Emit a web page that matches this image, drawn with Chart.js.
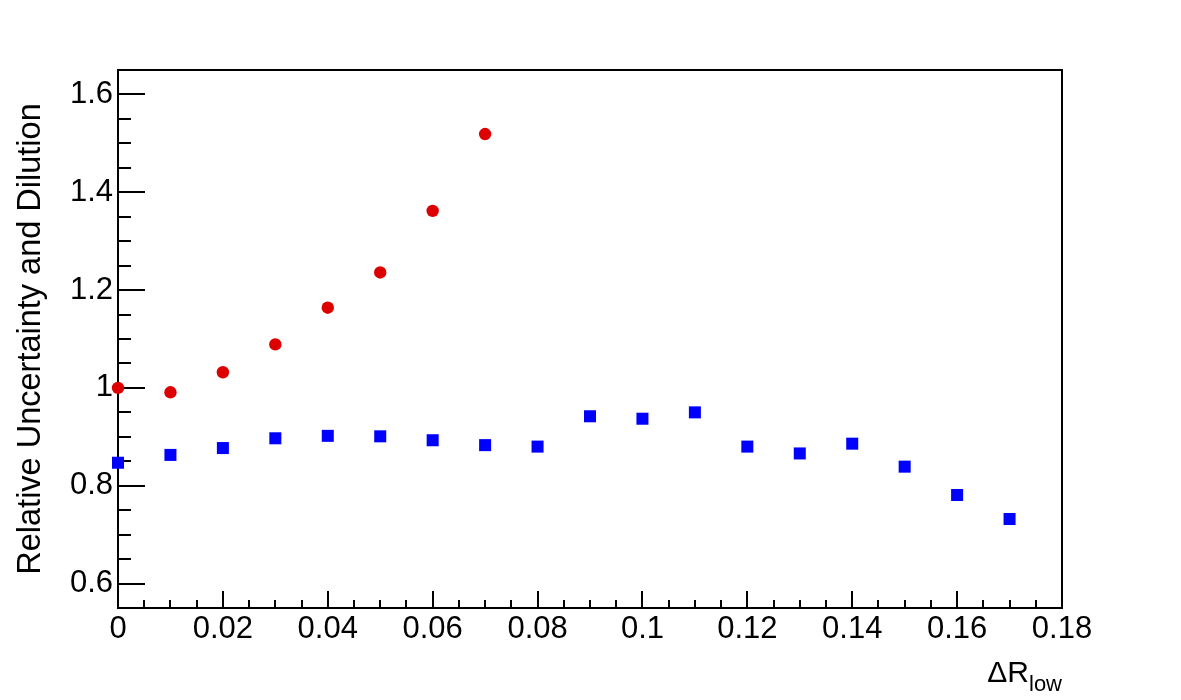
<!DOCTYPE html>
<html>
<head>
<meta charset="utf-8">
<title>Relative Uncertainty and Dilution</title>
<script src="https://cdn.jsdelivr.net/npm/chart.js@4/dist/chart.umd.min.js"></script>
<style>
    body { margin: 0; background: #ffffff; }
    #wrap { width: 1181px; height: 700px; position: relative; }
</style>
</head>
<body>
<div id="wrap"><canvas id="plot"></canvas></div>
<script>
// x positions (ΔR_low)
const dRlow = [0, 0.01, 0.02, 0.03, 0.04, 0.05, 0.06, 0.07, 0.08, 0.09,
               0.10, 0.11, 0.12, 0.13, 0.14, 0.15, 0.16, 0.17];

// red circles: relative uncertainty
const uncertainty = [1.000, 0.991, 1.032, 1.089, 1.164, 1.236, 1.362, 1.519];

// blue squares: dilution
const dilution = [0.847, 0.863, 0.877, 0.897, 0.902, 0.901, 0.893, 0.883, 0.880,
                  0.942, 0.937, 0.950, 0.880, 0.866, 0.886, 0.839, 0.781, 0.732];

// tick labels
const xTicks = [0, 0.02, 0.04, 0.06, 0.08, 0.1, 0.12, 0.14, 0.16, 0.18];
const yTicks = [0.6, 0.8, 1, 1.2, 1.4, 1.6];

const FONT = "'Liberation Sans', Arial, Helvetica, sans-serif";

function toPoints(xs, ys) {
    return ys.map((y, i) => ({ x: xs[i], y: y }));
}

function fmt(v) {
    return String(Number(v.toFixed(4)));
}

// frame + ROOT style ticks pointing inside the frame
const framePlugin = {
    id: "frame",
    beforeDatasetsDraw(chart) {
        const ctx = chart.ctx;
        const a = chart.chartArea;
        const xs = chart.scales.x;
        const ys = chart.scales.y;
        ctx.save();
        ctx.strokeStyle = "#000";
        ctx.lineWidth = 2;
        ctx.strokeRect(a.left, a.top, a.right - a.left, a.bottom - a.top);

        ctx.beginPath();
        // x ticks, minor every 0.005
        for (let i = 0; i <= 36; i++) {
            const px = Math.round(xs.getPixelForValue(i * 0.005));
            const len = (i % 4 === 0) ? 17 : 8;
            ctx.moveTo(px, a.bottom);
            ctx.lineTo(px, a.bottom - len);
        }
        // y ticks, minor every 0.05
        for (let i = 11; i <= 33; i++) {
            const py = Math.round(ys.getPixelForValue(i * 0.05));
            const len = (i % 4 === 0) ? 27 : 13;
            ctx.moveTo(a.left, py);
            ctx.lineTo(a.left + len, py);
        }
        ctx.stroke();
        ctx.restore();
    },
    afterDraw(chart) {
        // x axis title ΔR_low, right aligned at the axis end
        const ctx = chart.ctx;
        const a = chart.chartArea;
        ctx.save();
        ctx.fillStyle = "#000";
        ctx.textBaseline = "alphabetic";
        ctx.textAlign = "left";
        ctx.font = "22px " + FONT;
        const subW = ctx.measureText("low").width;
        ctx.font = "30px " + FONT;
        const mainW = ctx.measureText("ΔR").width;
        const x0 = a.right - subW - mainW;
        ctx.fillText("ΔR", x0, 682);
        ctx.font = "22px " + FONT;
        ctx.fillText("low", x0 + mainW, 691);
        ctx.restore();
    }
};

const ctx = document.getElementById("plot").getContext("2d");

new Chart(ctx, {
    type: "scatter",
    data: {
        datasets: [
            {
                label: "Relative Uncertainty",
                data: toPoints(dRlow, uncertainty),
                pointStyle: "circle",
                pointRadius: 6.2,
                pointBorderWidth: 0,
                backgroundColor: "#dd0000",
                borderColor: "#dd0000",
                clip: false
            },
            {
                label: "Dilution",
                data: toPoints(dRlow, dilution),
                pointStyle: "rect",
                pointRadius: 8.5,
                pointBorderWidth: 0,
                backgroundColor: "#0000ff",
                borderColor: "#0000ff",
                clip: false
            }
        ]
    },
    options: {
        responsive: true,
        maintainAspectRatio: false,
        animation: false,
        layout: { padding: { top: 70, right: 119, left: 0, bottom: 0 } },
        plugins: {
            legend: { display: false },
            tooltip: { enabled: false }
        },
        scales: {
            x: {
                type: "linear",
                min: 0,
                max: 0.18,
                grid: { display: false, drawTicks: false },
                border: { display: false },
                afterBuildTicks: s => { s.ticks = xTicks.map(v => ({ value: v })); },
                afterFit: s => { s.height = 92; },
                ticks: {
                    color: "#000",
                    padding: 3,
                    maxRotation: 0,
                    autoSkip: false,
                    font: { family: FONT, size: 31 },
                    callback: v => fmt(v)
                }
            },
            y: {
                type: "linear",
                min: 0.55,
                max: 1.65,
                grid: { display: false, drawTicks: false },
                border: { display: false },
                afterBuildTicks: s => { s.ticks = yTicks.map(v => ({ value: v })); },
                afterFit: s => { s.width = 118; },
                ticks: {
                    color: "#000",
                    padding: 5,
                    autoSkip: false,
                    font: { family: FONT, size: 31 },
                    callback: v => fmt(v)
                },
                title: {
                    display: true,
                    text: "Relative Uncertainty and Dilution",
                    color: "#000",
                    padding: { top: 12, bottom: 0 },
                    font: { family: FONT, size: 32.5 }
                }
            }
        }
    },
    plugins: [framePlugin]
});
</script>
</body>
</html>
